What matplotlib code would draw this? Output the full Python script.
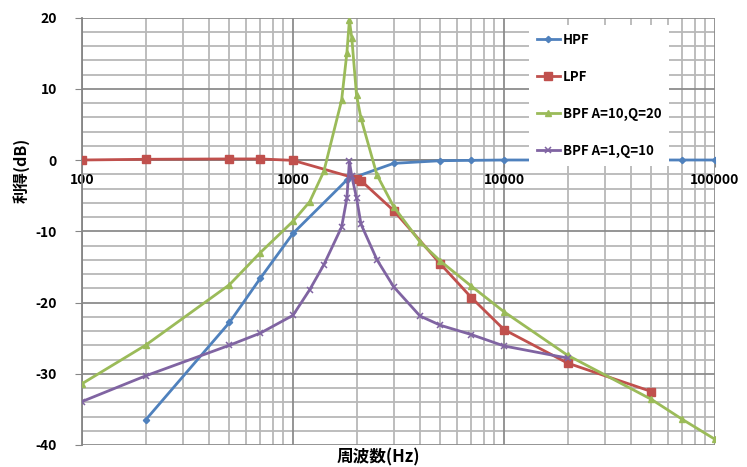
import matplotlib
matplotlib.use("Agg")
import matplotlib.pyplot as plt
from matplotlib.ticker import FixedLocator, NullFormatter, FixedFormatter

plt.rcParams['font.family'] = ['Noto Sans CJK JP', 'DejaVu Sans']

# ---- data ----
hpf_f = [200, 500, 700, 1000, 1800, 3000, 5000, 7000, 10000, 20000, 50000, 70000, 100000]
hpf_db = [-36.5, -22.8, -16.6, -10.3, -2.8, -0.47, -0.1, -0.05, 0, 0, 0, 0, 0]

lpf_f = [100, 200, 500, 700, 1000, 2000, 2100, 3000, 5000, 7000, 10000, 20000, 50000]
lpf_db = [0, 0.1, 0.15, 0.15, -0.05, -2.6, -2.9, -7.1, -14.6, -19.3, -23.8, -28.5, -32.5]

bpf1_f = [100, 200, 500, 700, 1000, 1200, 1400, 1700, 1800, 1850, 1900, 2000, 2100,
          2500, 3000, 4000, 5000, 7000, 10000, 20000, 50000, 70000, 100000]
bpf1_db = [-31.4, -26.0, -17.5, -13.0, -8.6, -5.85, -1.6, 8.4, 15.0, 19.6, 17.1, 9.1, 5.85,
           -2.1, -6.55, -11.5, -14.2, -17.7, -21.3, -27.4, -33.6, -36.4, -39.2]

bpf2_f = [100, 200, 500, 700, 1000, 1200, 1400, 1700, 1800, 1850, 1900, 2000, 2100,
          2500, 3000, 4000, 5000, 7000, 10000, 20000]
bpf2_db = [-33.9, -30.3, -26.0, -24.3, -21.8, -18.2, -14.7, -9.4, -5.4, -0.2, -2.3, -5.3, -9.0,
           -14.0, -17.8, -21.9, -23.2, -24.5, -26.1, -27.8]

x_ticks = [100, 1000, 10000, 100000]
x_labels = ['100', '1000', '10000', '100000']
y_ticks = [-40, -30, -20, -10, 0, 10, 20]
y_labels = ['-40', '-30', '-20', '-10', '0', '10', '20']

series_labels = ['HPF', 'LPF', 'BPF A=10,Q=20', 'BPF A=1,Q=10']
colors = ['#4F81BD', '#C0504D', '#9BBB59', '#8064A2']

# ---- figure ----
W, H = 747, 467
fig = plt.figure(figsize=(W / 100, H / 100), dpi=100)
L, R, T, B = 82, 715, 17.5, 445
ax = fig.add_axes([L / W, 1 - B / H, (R - L) / W, (B - T) / H])

ax.set_xscale('log')
ax.set_xlim(100, 100000)
ax.set_ylim(-40, 20)

# grid
minor_x = [m * 10 ** e for e in range(2, 5) for m in range(2, 10)]
minor_y = [v for v in range(-40, 21, 2) if v % 10 != 0]
for v in minor_x:
    ax.axvline(v, color='#B8B8B8', lw=1.3, zorder=0)
for v in minor_y:
    ax.axhline(v, color='#B8B8B8', lw=1.3, zorder=0)
for v in x_ticks:
    ax.axvline(v, color='#8C8C8C', lw=1.3, zorder=0.5)
for v in y_ticks:
    ax.axhline(v, color='#8C8C8C', lw=1.3, zorder=0.5)

for s in ['top', 'right']:
    ax.spines[s].set_visible(False)
ax.spines['bottom'].set_position(('data', 0))
ax.spines['bottom'].set_color('#868686')
ax.spines['left'].set_color('#868686')
ax.spines['bottom'].set_linewidth(1.3)
ax.spines['left'].set_linewidth(1.3)

ax.xaxis.set_major_locator(FixedLocator(x_ticks))
ax.xaxis.set_major_formatter(FixedFormatter(x_labels))
ax.xaxis.set_minor_locator(FixedLocator([]))
ax.xaxis.set_minor_formatter(NullFormatter())
ax.yaxis.set_major_locator(FixedLocator(y_ticks))
ax.yaxis.set_major_formatter(FixedFormatter(y_labels))

ax.tick_params(axis='x', length=5, color='#868686', pad=4, labelsize=10)
ax.tick_params(axis='y', length=5, color='#868686', pad=13, labelsize=10)
for lab in ax.get_xticklabels() + ax.get_yticklabels():
    lab.set_fontweight('bold')

l1, = ax.plot(hpf_f, hpf_db, color=colors[0], lw=2, marker='D', ms=3.2, label=series_labels[0], zorder=3)
l2, = ax.plot(lpf_f, lpf_db, color=colors[1], lw=2, marker='s', ms=5.5, label=series_labels[1], zorder=3)
l3, = ax.plot(bpf1_f, bpf1_db, color=colors[2], lw=2, marker='^', ms=5, label=series_labels[2], zorder=3)
l4, = ax.plot(bpf2_f, bpf2_db, color=colors[3], lw=2, marker='x', ms=5, mew=1.1, label=series_labels[3], zorder=3)

leg = ax.legend(loc='upper left', bbox_to_anchor=((522 - L) / (R - L), (B - 18) / (B - T)),
                frameon=True, fancybox=False, edgecolor='none', facecolor='white', framealpha=1,
                labelspacing=1.75, handlelength=1.8, handletextpad=0.2, borderpad=0.6,
                prop={'weight': 'bold', 'size': 9.5})
leg.set_zorder(5)

fig.text(378 / W, 1 - 457 / H, '周波数(Hz)', ha='center', va='center', fontsize=12, fontweight='bold')
fig.text(21 / W, 1 - 170 / H, '利得(dB)', ha='center', va='center', rotation=90, fontsize=11.5, fontweight='bold')

fig.savefig('out.png', dpi=100)
